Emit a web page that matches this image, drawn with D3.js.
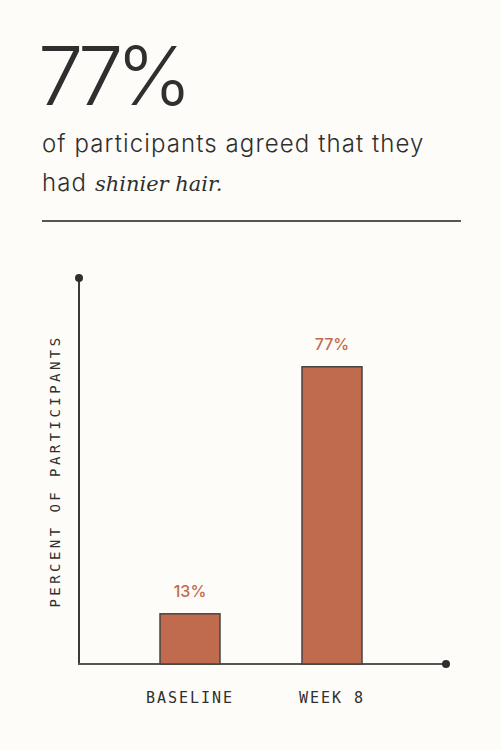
<!DOCTYPE html>
<html>
<head>
<meta charset="utf-8">
<script src="https://cdn.jsdelivr.net/npm/d3@7"></script>
<style>
  html, body { margin: 0; padding: 0; background: #fdfcf8; }
  svg { display: block; }
</style>
</head>
<body>
<script>
// data
var categories = ['BASELINE', 'WEEK 8'];
var values = [13, 77];
var headline = '77%';
var yLabel = 'PERCENT OF PARTICIPANTS';

var W = 501, H = 750;
var bar = '#c06b4d', ink = '#2f2f2f', line = '#555';
var sans = 'Inter, Lato, "Noto Sans", sans-serif';
var mono = '"DejaVu Sans Mono", monospace';

var svg = d3.select('body').append('svg')
    .attr('width', W).attr('height', H);

svg.append('rect').attr('width', W).attr('height', H).attr('fill', '#fdfcf8');

// header
svg.append('text')
    .attr('x', 38).attr('y', 105)
    .attr('font-family', sans).attr('font-weight', 300)
    .attr('font-size', 81).attr('letter-spacing', -7).attr('fill', ink)
    .text(headline);

svg.append('text')
    .attr('x', 42).attr('y', 152)
    .attr('font-family', sans).attr('font-weight', 300)
    .attr('font-size', 24).attr('letter-spacing', 1.1).attr('fill', ink)
    .text('of participants agreed that they');

var l2 = svg.append('text')
    .attr('x', 42).attr('y', 191)
    .attr('font-family', sans).attr('font-weight', 300)
    .attr('font-size', 24).attr('letter-spacing', 1.1).attr('fill', ink);
l2.append('tspan').text('had ');
l2.append('tspan')
    .attr('font-family', '"DejaVu Serif", "Liberation Serif", serif')
    .attr('font-style', 'italic').attr('font-size', 21).attr('letter-spacing', 0)
    .text('shinier hair.');

svg.append('line')
    .attr('x1', 42).attr('x2', 461).attr('y1', 221).attr('y2', 221)
    .attr('stroke', line).attr('stroke-width', 2);

// scales
var x = d3.scaleBand().domain(categories)
    .range([119, 403]).paddingInner(0.5775).paddingOuter(0.28875);
var y = d3.scaleLinear().domain([0, 100]).range([664, 278]);

var x0 = 79, x1 = 446;

// axes lines + end dots
svg.append('line')
    .attr('x1', x0).attr('x2', x0).attr('y1', y(0)).attr('y2', y(100))
    .attr('stroke', '#3a3a3a').attr('stroke-width', 2);
svg.append('line')
    .attr('x1', x0 - 1).attr('x2', x1).attr('y1', y(0)).attr('y2', y(0))
    .attr('stroke', line).attr('stroke-width', 2);
svg.append('circle').attr('cx', x0).attr('cy', y(100)).attr('r', 4).attr('fill', ink);
svg.append('circle').attr('cx', x1).attr('cy', y(0)).attr('r', 4).attr('fill', ink);

// bars
var rows = categories.map(function(c, i){ return {cat: c, val: values[i]}; });

svg.selectAll('rect.bar').data(rows).enter().append('rect')
    .attr('class', 'bar')
    .attr('x', function(d){ return x(d.cat); })
    .attr('y', function(d){ return y(d.val); })
    .attr('width', x.bandwidth())
    .attr('height', function(d){ return y(0) - y(d.val); })
    .attr('fill', bar).attr('stroke', '#444').attr('stroke-width', 1.5);

svg.selectAll('text.val').data(rows).enter().append('text')
    .attr('class', 'val')
    .attr('x', function(d){ return x(d.cat) + x.bandwidth() / 2; })
    .attr('y', function(d){ return y(d.val) - 17; })
    .attr('text-anchor', 'middle')
    .attr('font-family', sans).attr('font-weight', 500)
    .attr('font-size', 16).attr('fill', bar)
    .text(function(d){ return d.val + '%'; });

// category axis
var xAxis = svg.append('g')
    .attr('transform', 'translate(0,' + y(0) + ')')
    .call(d3.axisBottom(x).tickSize(0).tickPadding(28));
xAxis.select('.domain').remove();
xAxis.selectAll('text')
    .attr('font-family', mono).attr('font-size', 15)
    .attr('letter-spacing', 2).attr('fill', ink);

// y label
svg.append('text')
    .attr('transform', 'translate(60,471) rotate(-90)')
    .attr('text-anchor', 'middle')
    .attr('font-family', mono).attr('font-size', 14)
    .attr('letter-spacing', 3.45).attr('fill', ink)
    .text(yLabel);
</script>
</body>
</html>
